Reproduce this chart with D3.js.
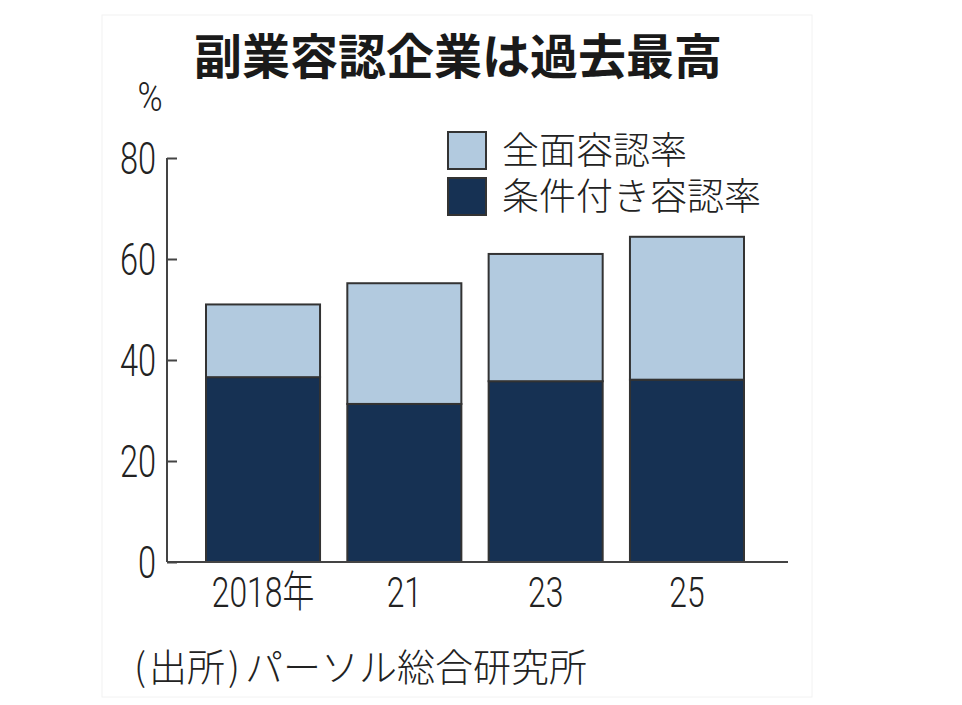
<!DOCTYPE html>
<html>
<head>
<meta charset="utf-8">
<script src="https://cdn.jsdelivr.net/npm/d3@7"></script>
<style>
  body { margin: 0; background: #fff; }
  svg { display: block; }
</style>
</head>
<body>
<div id="chart"></div>
<script>
// 副業容認企業の割合（%）
var years = ['2018年', '21', '23', '25']
var conditional = [36.6, 31.3, 35.8, 36.1]   // 条件付き容認率
var full = [14.4, 23.9, 25.2, 28.3]          // 全面容認率
var yTicks = [0, 20, 40, 60, 80]
var seriesNames = ['全面容認率', '条件付き容認率']

var W = 962, H = 705
var margin = {top: 158, left: 167, right: 174, bottom: 143}
var width = W - margin.left - margin.right,
    height = H - margin.top - margin.bottom

var numFont = 'Roboto, "Noto Sans CJK JP", sans-serif'
var jpFont = '"Noto Sans CJK JP", sans-serif'
var squeeze = 0.74   // condensed look of the number labels

var svg = d3.select('#chart').append('svg')
    .attr('width', W)
    .attr('height', H)

// faint frame round the graphic
svg.append('rect')
    .attr('x', 102).attr('y', 15)
    .attr('width', 710).attr('height', 682)
    .attr('fill', 'none')
    .attr('stroke', '#f2f2f2')

var g = svg.append('g').attr('transform', 'translate(' + margin.left + ',' + margin.top + ')')

var x = d3.scaleBand()
    .domain(years)
    .range([0, 616])
    .paddingInner(0.193)
    .paddingOuter(0.276)

var y = d3.scaleLinear()
    .domain([0, 80])
    .range([height, 0])

var rows = years.map((yr, i) => ({ year: yr, cond: conditional[i], full: full[i] }))
var stacked = d3.stack().keys(['cond', 'full'])(rows)
var colors = { cond: '#163153', full: '#b2cadf' }

g.selectAll('.layer')
    .data(stacked)
  .enter().append('g')
    .attr('class', 'layer')
    .attr('fill', d => colors[d.key])
  .selectAll('rect')
    .data(d => d)
  .enter().append('rect')
    .attr('x', d => x(d.data.year))
    .attr('y', d => y(d[1]))
    .attr('width', x.bandwidth())
    .attr('height', d => y(d[0]) - y(d[1]))
    .attr('stroke', '#333')
    .attr('stroke-width', 2)

// y axis: ticks point inward
var yAxis = g.append('g')
    .call(d3.axisRight(y).tickValues(yTicks).tickSize(10).tickFormat(''))
yAxis.select('.domain').remove()
yAxis.selectAll('line').attr('stroke', '#444').attr('stroke-width', 2)
g.append('line')
    .attr('x1', 0).attr('x2', 0)
    .attr('y1', y(80)).attr('y2', y(0))
    .attr('stroke', '#444').attr('stroke-width', 2)

g.selectAll('.ylab')
    .data(yTicks)
  .enter().append('text')
    .attr('transform', d => 'translate(-11,' + (y(d) + 16) + ') scale(' + squeeze + ',1)')
    .attr('text-anchor', 'end')
    .style('font-family', numFont)
    .style('font-weight', 300)
    .style('font-size', '44px')
    .attr('fill', '#222')
    .text(d => d)

// baseline
g.append('line')
    .attr('x1', 0).attr('x2', width)
    .attr('y1', y(0)).attr('y2', y(0))
    .attr('stroke', '#444').attr('stroke-width', 2)

// x labels
g.selectAll('.xlab')
    .data(years)
  .enter().append('text')
    .attr('transform', d => 'translate(' + (x(d) + x.bandwidth() / 2) + ',' + (height + 45) + ') scale(' + squeeze + ',1)')
    .attr('text-anchor', 'middle')
    .style('font-family', numFont)
    .style('font-weight', 300)
    .style('font-size', '43px')
    .attr('fill', '#222')
    .text(d => d)

svg.append('text')
    .attr('transform', 'translate(150,111) scale(0.85,1)')
    .attr('text-anchor', 'middle')
    .style('font-family', numFont)
    .style('font-weight', 300)
    .style('font-size', '40px')
    .attr('fill', '#222')
    .text('%')

// title
svg.append('text')
    .attr('x', 458).attr('y', 74)
    .attr('text-anchor', 'middle')
    .style('font-family', jpFont)
    .style('font-weight', 700)
    .style('font-size', '48px')
    .attr('fill', '#1a1a1a')
    .text('副業容認企業は過去最高')

// legend
var legend = svg.append('g').attr('transform', 'translate(448,132)')
var legendColors = [colors.full, colors.cond]
seriesNames.forEach((name, i) => {
    legend.append('rect')
        .attr('x', 0).attr('y', i * 46)
        .attr('width', 38).attr('height', 37)
        .attr('fill', legendColors[i])
        .attr('stroke', '#333').attr('stroke-width', 2)
    legend.append('text')
        .attr('x', 54).attr('y', i * 46 + 32)
        .style('font-family', jpFont)
        .style('font-weight', 300)
        .style('font-size', '37px')
        .attr('fill', '#222')
        .text(name)
})

// source
var src = svg.append('text')
    .attr('x', 134).attr('y', 681)
    .style('font-family', jpFont)
    .style('font-weight', 300)
    .style('font-size', '38px')
    .attr('fill', '#222')
src.append('tspan').text('(')
src.append('tspan').attr('dx', 3).text('出所')
src.append('tspan').attr('dx', 3).text(')')
src.append('tspan').attr('dx', 5).text('パーソル総合研究所')
</script>
</body>
</html>
